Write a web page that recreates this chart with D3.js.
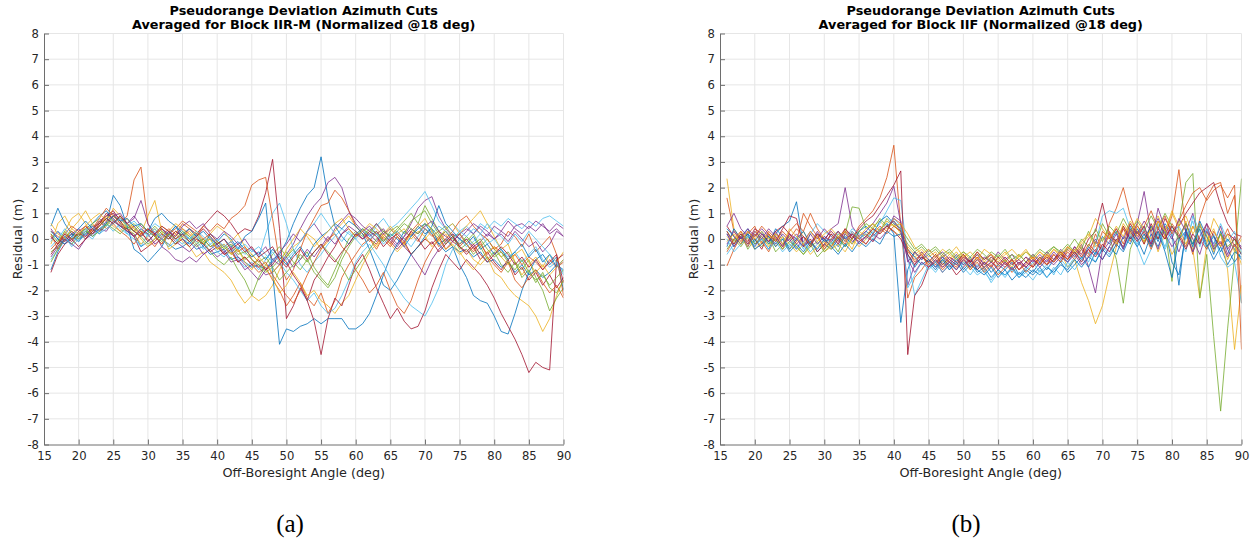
<!DOCTYPE html>
<html>
<head>
<meta charset="utf-8">
<script src="https://cdn.jsdelivr.net/npm/d3@7"></script>
<style>
  body { margin: 0; background: #fff; }
  svg { display: block; }
  text { font-family: "DejaVu Sans", sans-serif; }
</style>
</head>
<body>
<svg id="fig" width="1258" height="544"></svg>
<script>
// Off-boresight angles of each azimuth cut sample (deg)
const angles = d3.range(16, 91);
const xTicks = d3.range(15, 91, 5);
const yTicks = d3.range(-8, 9, 1);
const lineColors = ["#0072BD", "#D95319", "#EDB120", "#7E2F8E", "#77AC30", "#4DBEEE", "#A2142F"];

// Residuals (m) per azimuth cut, Block IIR-M, one row per cut, angles 16..90
const blockIIRM = [
  [-1.2,-0.5,0.0,0.2,0.1, 0.4,0.6,0.9,1.1,0.7, 0.5,0.3,0.2,-0.3,-0.1, 0.2,0.0,-0.2,-0.4,-0.3, -0.1,-0.4,-0.3,-0.6,-0.5, -0.4,-0.8,-0.7,-0.9,-1.1, -1.0,-1.2,-0.8,-0.6,-0.1, 0.6,1.2,1.7,2.0,3.2, 1.6,0.5,0.1,-0.2,0.2, 0.4,0.1,0.3,-0.1,0.2, 0.0,-0.3,0.1,0.4,0.6, 0.2,-0.2,0.0,-0.3,-0.5, -0.4,-0.7,-0.5,-0.9,-0.8, -1.1,-0.9,-1.3,-1.0,-1.4, -1.2,-1.5,-1.3,-1.0,-1.2],
  [0.3,0.1,-0.1,0.2,0.0, 0.3,0.5,0.6,0.8,1.0, 0.6,0.9,2.3,2.8,0.6, 0.1,-0.2,0.3,0.1,0.4, 0.2,-0.1,0.0,-0.3,-0.2, -0.6,-0.5,-0.9,-0.7,-1.0, -1.3,-1.1,-1.6,-2.0,-2.6, -2.2,-1.7,-2.3,-2.6,-2.1, -2.9,-2.4,-1.5,-1.0,-0.6, -0.2,0.0,-0.4,0.1,-0.2, 0.3,0.0,0.2,-0.1,0.4, 0.1,0.3,-0.1,0.2,-0.3, 0.0,-0.4,-0.2,-0.6,-0.3, -0.5,-0.8,-0.6,-1.0,-0.7, -0.9,-1.2,-0.8,-1.1,-0.9],
  [-0.2,0.6,0.9,0.4,0.7, 1.1,0.6,0.3,0.5,1.2, 0.9,0.4,0.2,-0.2,0.1, 0.4,0.0,-0.3,0.2,-0.1, -0.3,-0.7,-0.5,-0.9,-1.1, -1.3,-1.6,-2.1,-2.5,-2.2, -2.4,-2.2,-1.8,-1.2,-0.7, -0.3,-0.1,0.2,0.0,-0.4, -0.1,0.3,0.6,0.9,0.5, 0.2,0.0,-0.3,0.1,-0.2, -0.5,-0.2,-0.6,-0.3,0.0, 0.3,-0.1,0.2,-0.3,-0.6, -0.4,-0.8,-1.0,-0.7,-1.3, -1.5,-1.9,-2.2,-2.4,-2.6, -3.0,-3.6,-3.1,-2.2,-1.6],
  [0.4,0.0,-0.2,0.1,-0.1, 0.2,0.4,0.7,0.9,1.0, 0.8,0.6,0.9,0.5,0.3, 0.1,0.4,0.2,-0.1,-0.3, -0.5,-0.2,-0.6,-0.4,-0.7, -0.5,-0.9,-0.8,-1.2,-1.0, -1.1,-1.4,-1.3,-1.0,-0.6, -0.2,0.4,0.9,1.3,1.6, 2.2,2.4,2.0,1.1,0.6, 0.3,0.5,0.2,0.4,0.0, -0.3,0.1,0.6,1.2,1.5, 1.65,0.9,0.4,0.1,-0.2, 0.0,-0.3,-0.1,0.2,0.0, 0.3,0.1,0.5,0.6,0.4, 0.7,0.5,0.3,0.6,0.4],
  [-0.5,-0.3,0.1,0.3,0.0, 0.2,0.6,0.8,0.5,0.9, 0.7,0.4,0.6,0.3,0.2, 0.5,0.2,0.0,0.3,0.1, -0.1,0.2,-0.2,0.0,-0.4, -0.3,-0.6,-0.4,-0.8,-0.6, -0.9,-0.7,-1.1,-0.8,-0.5, -0.9,-1.2,-0.8,-1.3,-1.6, -1.9,-1.5,-0.8,-0.3,0.1, 0.4,0.2,0.6,0.3,0.1, 0.4,0.7,1.0,0.6,1.3, 0.8,0.3,0.5,0.1,0.2, -0.1,0.2,-0.3,0.0,-0.4, -0.7,-0.5,-0.9,-1.2,-0.8, -1.5,-2.0,-2.8,-2.3,-1.9],
  [-0.8,-0.4,0.1,-0.2,0.2, 0.0,0.3,0.7,0.5,0.8, 0.4,0.2,0.5,0.1,0.3, 0.6,0.4,0.1,0.5,0.3, 0.0,0.2,-0.1,0.1,-0.3, -0.2,-0.5,-0.3,-0.6,-0.4, -0.7,0.2,1.0,1.4,0.6, -0.4,-1.0,-1.3,-0.9,-0.6, -0.2,0.1,0.4,0.2,0.0, 0.3,0.1,0.5,0.8,0.4, 0.6,0.9,1.2,1.5,1.85, 1.3,0.7,0.4,0.6,0.3, 0.5,0.2,0.6,0.4,0.7, 0.5,0.8,0.6,0.4,0.7, 0.5,0.8,0.9,0.7,0.5],
  [-1.3,-0.6,-0.2,0.0,0.2, 0.1,0.4,0.6,0.9,1.1, 0.7,0.3,0.1,-0.5,-0.3, -0.1,0.2,0.0,0.3,0.1, 0.4,0.2,0.5,0.8,1.1, 0.9,0.6,0.2,0.4,0.3, 0.9,1.8,3.1,0.4,-3.1, -2.6,-1.9,-2.4,-1.6,-1.2, -0.7,-0.3,0.2,0.4,0.1, 0.3,0.0,-0.2,0.2,-0.1, -0.4,-0.1,-0.6,-0.3,0.0, -0.2,0.1,-0.4,-0.1,-0.3, -0.6,-0.3,-0.8,-0.5,-0.9, -1.2,-0.8,-1.4,-1.1,-1.6, -1.3,-1.8,-1.4,-1.9,-1.5],
  [0.5,1.2,0.6,0.2,-0.1, 0.3,0.1,0.4,0.6,1.7, 1.3,0.5,-0.4,-0.6,-0.9, -0.6,-0.3,0.2,0.5,0.0, -0.2,0.1,-0.3,0.2,-0.1, 0.2,0.0,-0.4,0.1,0.3, 0.8,1.4,-1.3,-4.1,-3.5, -3.6,-3.4,-3.3,-3.1,-3.3, -3.1,-3.1,-3.1,-3.5,-3.5, -3.3,-2.9,-2.2,-1.4,-0.7, -0.2,0.3,0.1,0.5,0.2, 0.4,-0.2,-0.5,-0.3,-1.0, -1.5,-2.2,-2.4,-2.5,-3.0, -3.6,-3.7,-2.9,-2.0,-1.3, -0.8,-0.6,-1.0,-0.7,-2.0],
  [0.2,-0.4,0.0,0.3,0.1, 0.5,0.3,0.7,0.4,0.6, 0.3,0.1,-0.2,0.2,0.0, -0.3,0.1,0.4,0.2,0.6, 0.4,0.1,0.5,0.3,0.6, 0.4,0.8,1.0,1.3,2.1, 2.3,2.4,0.8,-0.9,-1.6, -1.2,-0.4,0.3,0.8,1.3, 1.4,1.9,1.6,1.1,0.5, 0.2,-0.1,0.3,0.0,-0.3, 0.1,-0.2,0.3,0.6,0.4, 0.2,-0.3,0.0,0.3,0.7, 0.9,0.5,0.2,0.0,-0.4, -0.2,0.3,0.1,-0.3,0.2, -0.5,-0.2,0.1,-0.6,-2.2],
  [0.1,-0.2,0.3,0.8,1.0, 0.6,0.2,0.5,0.9,0.7, 0.5,0.8,0.4,0.2,0.9, 1.5,0.3,-0.4,-0.2,0.1, 0.3,0.0,-0.2,0.2,0.5, 0.3,-0.1,0.2,-0.3,-0.6, -0.9,-1.2,-1.5,-2.1,-1.8, -1.3,-1.7,-2.2,-2.0,-2.4, -2.6,-2.9,-2.5,-2.2,-1.6, -1.0,-0.5,-0.2,0.2,0.5, 0.2,0.4,0.0,0.3,0.1, -0.3,0.0,0.4,0.6,0.2, 0.5,0.8,1.1,0.6,0.1, -0.4,-0.2,-0.9,-1.4,-1.0, -0.7,-1.1,-0.6,-0.9,-0.5],
  [0.0,0.3,-0.1,0.2,0.4, 0.1,0.5,0.3,0.7,0.9, 1.0,0.6,0.8,1.5,0.6, 0.2,-0.3,-0.5,-0.8,-0.9, -0.7,-0.9,-0.6,-0.4,-0.2, -0.5,-0.3,-0.7,-1.0,-1.3, -1.6,-1.2,-0.9,-0.5,-0.2, 0.2,-0.1,0.3,0.6,0.2, -0.1,0.4,0.7,1.0,0.8, 0.5,0.3,0.6,0.2,0.4, 0.1,-0.3,-0.6,-1.0,-1.4, -0.8,-0.4,-0.1,0.2,0.0, 0.3,0.6,0.4,0.1,0.5, 0.3,0.7,0.4,0.2,0.5, 0.3,0.6,0.2,0.4,0.1],
  [-0.9,-0.4,0.0,-0.2,0.1, 0.3,0.2,0.5,0.8,0.6, 0.9,0.5,0.3,0.1,-0.2, 0.0,0.3,0.1,-0.2,0.2, 0.0,-0.3,-0.1,-0.5,-0.8, -1.0,-0.7,-1.2,-1.6,-2.2, -1.5,-1.0,-0.6,-0.3,-0.7, -0.4,-0.8,-0.5,-1.1,-1.5, -1.8,-1.2,-0.6,0.0,0.3, 0.1,0.4,0.2,-0.1,0.3, 0.5,0.2,0.7,0.9,1.1, 0.6,0.2,-0.2,0.1,-0.4, -0.2,-0.6,-0.3,-0.8,-0.5, -1.0,-1.3,-0.9,-1.5,-1.2, -1.7,-1.3,-1.9,-2.1,-1.6],
  [-0.3,0.0,0.4,0.1,-0.1, 0.2,0.0,0.4,0.6,0.3, 0.6,0.2,0.0,-0.3,0.2, 0.4,0.1,0.3,0.0,-0.2, 0.1,-0.1,-0.4,-0.2,-0.5, -0.7,-0.4,-0.8,-1.1,-0.9, -1.2,-0.8,-0.5,-0.9,-1.3, -1.6,-2.0,-2.4,-2.1,-2.6, -2.9,-2.7,-2.2,-1.6,-0.9, -0.5,-0.2,-0.6,-1.0,-1.5, -1.9,-2.3,-2.6,-2.8,-3.0, -2.5,-1.9,-1.0,-0.4,0.0, -0.3,-0.1,0.2,-0.2,0.0, -0.4,-0.7,-0.5,-0.9,-0.6, -0.3,-0.8,-1.1,-0.9,-1.3],
  [-0.6,-0.2,0.1,-0.1,0.3, 0.5,0.2,0.6,1.0,0.8, 0.5,0.4,0.1,0.3,-0.1, 0.2,0.4,0.1,-0.2,0.0, -0.3,0.0,-0.2,-0.5,-0.3, -0.6,-0.4,-0.9,-0.7,-1.0, -0.8,-1.2,-1.0,-0.6,-0.9, -1.4,-1.8,-2.4,-3.2,-4.5, -3.1,-2.3,-2.6,-1.8,-1.0, -0.6,-1.2,-1.9,-2.5,-3.1, -2.7,-3.2,-3.5,-3.4,-2.8, -1.9,-1.2,-0.6,-0.9,-1.2, -0.8,-1.1,-1.4,-1.8,-2.3, -2.9,-3.4,-3.9,-4.5,-5.2, -4.8,-5.0,-5.1,-0.8,-0.6],
  [0.3,0.0,-0.2,0.1,0.4, 0.7,0.4,0.2,0.6,0.9, 0.7,0.8,0.5,0.6,0.3, 0.8,1.0,0.7,0.5,0.2, 0.4,0.1,0.3,0.0,-0.2, 0.0,-0.3,-0.1,-0.4,-0.7, -0.5,-0.8,-0.4,-0.7,-1.0, -0.6,-0.3,-0.7,-0.2,0.1, 0.3,0.6,0.4,0.7,0.5, 0.2,-0.4,-1.1,-1.8,-2.0, -1.6,-1.1,-0.6,-0.3,0.1, 0.5,1.3,0.6,0.3,0.0, -0.2,0.1,-0.4,-0.2,-0.6, -0.4,-0.8,-0.5,-0.2,-0.7, -0.4,-0.9,-0.6,-1.1,-0.8],
  [-0.4,-0.1,0.2,0.5,0.3, 0.0,0.4,0.8,1.2,0.9, 0.6,0.3,0.5,0.2,0.4, 0.1,-0.2,0.2,0.4,0.7, 0.5,0.3,0.0,0.2,-0.1, -0.3,-0.1,-0.5,-0.3,-0.8, -1.1,-0.9,-1.4,-1.8,-2.2, -2.5,-2.0,-1.4,-0.9,-0.4, 0.0,0.2,-0.3,-0.6,-1.2, -1.6,-2.1,-1.8,-1.3,-2.0, -2.6,-2.9,-2.4,-1.6,-0.9, -0.4,0.0,0.3,-0.1,0.2, -0.2,-0.5,-0.1,-0.7,-1.0, -1.3,-0.9,-1.6,-1.9,-1.5, -1.2,-1.7,-2.1,-1.8,-2.3],
  [0.6,0.2,0.0,0.4,0.2, 0.5,0.8,1.0,0.7,0.5, 0.3,0.6,0.4,0.0,-0.3, 0.0,0.5,0.3,0.6,0.4, 0.1,0.3,-0.1,0.0,-0.4, -0.2,-0.6,-0.4,-0.9,-1.2, -0.7,-1.0,-1.3,-1.0,-0.4, 0.0,0.4,0.1,-0.3,0.0, 0.3,0.6,0.8,0.4,0.1, 0.3,0.6,0.4,0.1,0.4, 0.1,-0.2,0.2,0.5,0.8, 0.3,0.0,-0.4,-0.2,-0.5, -0.9,-1.2,-0.8,-0.5,-0.3, -0.7,-1.0,-0.6,-0.4,-0.9, -1.3,-1.0,-1.4,-1.1,-0.8],
  [-0.7,-0.3,0.0,-0.2,-0.4, 0.0,0.2,0.4,0.3,0.7, 0.5,0.3,0.1,0.4,0.2, -0.2,0.0,0.3,0.1,0.5, 0.7,0.4,0.6,0.2,0.0, 0.3,0.1,-0.2,0.0,-0.4, -0.6,-0.3,-0.8,-1.0,-0.7, -1.1,-0.8,-0.4,-0.7,-0.3, 0.1,-0.2,0.2,0.5,0.3, 0.0,0.2,-0.1,0.3,0.1, -0.2,0.1,0.4,0.2,0.5, 0.7,0.3,0.1,-0.1,0.2, 0.4,0.2,0.5,0.3,0.0, 0.2,-0.1,0.3,0.0,-0.3, -0.1,-0.5,-0.2,0.3,0.1],
  [0.2,-0.1,0.3,0.0,0.2, 0.4,0.1,0.3,0.6,0.4, 0.2,0.5,0.3,0.6,0.3, 0.1,-0.1,0.2,0.0,0.3, 0.1,-0.2,0.0,-0.3,-0.1, -0.4,-0.2,-0.6,-0.5,-0.8, -1.0,-1.3,-1.1,-1.6,-1.3, -1.0,-0.6,-0.9,-0.5,-0.2, -0.5,-0.8,-1.1,-1.6,-1.2, -0.8,-0.4,0.0,0.3,0.1, 0.3,0.6,0.4,0.2,0.6, 0.4,0.1,0.3,0.0,-0.2, 0.1,-0.2,0.0,-0.4,-0.7, -0.5,-0.9,-1.2,-0.8,-1.3, -1.6,-1.4,-1.8,-1.5,-1.2],
  [-0.1,0.3,0.1,-0.3,0.0, 0.3,0.5,0.2,0.4,0.6, 0.8,0.5,0.7,0.4,0.1, 0.3,0.0,-0.3,-0.1,0.2, 0.0,0.3,0.1,-0.2,0.0, -0.3,-0.1,-0.4,-0.2,-0.5, -0.3,-0.6,-0.9,-0.6,-0.8, -0.5,-0.1,0.3,0.6,1.0, 0.6,0.2,-0.1,0.3,0.0, -0.3,0.0,0.2,-0.2,0.1, 0.3,0.0,-0.3,0.1,0.4, 0.2,0.5,0.3,0.0,0.3, 0.1,0.4,0.2,0.6,0.3, 0.1,-0.2,0.2,-0.1,0.3, 0.0,-0.3,-0.6,-0.9,-1.4],
  [0.1,-0.2,0.2,0.0,-0.3, 0.0,0.3,0.5,0.8,0.6, 0.9,0.6,0.3,0.1,0.4, 0.2,0.5,0.3,0.0,0.2, -0.1,0.1,0.4,0.1,-0.2, 0.0,-0.4,-0.2,-0.5,-0.3, -0.7,-0.5,-0.3,-0.8,-1.1, -0.7,-0.4,-0.8,-0.5,-0.2, -0.6,-0.9,-0.5,-0.2,0.2, 0.0,0.3,0.1,-0.3,0.0, 0.2,-0.1,0.3,0.0,-0.4, -0.1,-0.5,-0.2,0.1,-0.3, -0.5,-0.2,-0.6,-0.9,-0.6, -0.3,-0.6,-1.0,-0.7,-1.1, -0.8,-1.2,-0.9,-0.6,-1.7]
];

// Residuals (m) per azimuth cut, Block IIF, angles 16..90
const blockIIF = [
  [0.2,-0.3,0.1,0.4,-0.2, 0.0,-0.4,0.2,0.5,0.7, 1.45,-0.3,-0.1,-0.5,-0.2, -0.4,0.0,-0.3,0.2,0.0, 0.3,0.1,0.4,0.6,0.2, -3.25,-1.2,-0.5,-0.8,-0.6, -0.9,-0.7,-1.1,-0.8,-1.0, -0.7,-1.2,-0.9,-1.3,-1.0, -1.2,-0.9,-1.4,-1.1,-1.3, -0.9,-1.2,-0.8,-0.6,-0.9, -0.5,-0.8,-0.3,-0.6,0.1, -0.2,0.3,-0.4,0.5,0.0, -0.6,0.2,-0.3,0.4,-0.9, -1.4,0.2,-0.5,0.6,-0.2, -0.8,-0.3,-1.0,-0.5,-0.7],
  [1.6,0.3,-0.1,0.2,0.5, -0.2,0.3,0.0,-0.4,0.2, -0.1,1.0,0.5,0.1,-0.3, 0.2,-0.2,0.4,0.0,0.5, 0.8,1.1,1.6,2.4,3.65, 0.5,-2.3,-1.5,-1.2,-0.8, -1.0,-0.6,-0.9,-1.2,-0.8, -1.1,-0.7,-1.0,-0.8,-1.2, -0.9,-1.3,-1.0,-0.7,-1.1, -0.8,-1.0,-0.6,-0.9,-0.4, -0.7,-0.3,-0.6,0.2,-0.4, 0.6,1.2,2.0,0.9,0.2, 0.5,-0.3,0.7,0.1,0.9, 2.7,0.3,-0.6,0.8,1.6, 2.1,2.2,1.0,1.7,-2.5],
  [2.35,0.4,0.0,-0.2,0.3, 0.1,-0.3,0.2,0.0,-0.4, -0.1,0.3,-0.2,0.1,-0.5, -0.3,0.2,0.0,-0.4,0.3, 0.1,0.5,0.7,0.4,0.6, 0.2,-0.4,-0.7,-0.5,-0.9, -0.6,-1.0,-0.8,-0.5,-0.9, -1.2,-0.8,-1.1,-0.7,-1.0, -0.8,-1.1,-0.6,-0.9,-0.7, -1.0,-0.6,-0.8,-0.5,-1.1, -0.8,-1.7,-2.4,-3.3,-2.6, -1.4,-0.3,0.5,0.1,0.6, -0.2,0.4,-0.5,0.2,-0.6, -0.1,0.7,-0.4,-2.3,-0.2, 0.8,0.3,-1.2,-4.3,-1.8],
  [0.5,1.0,0.4,0.1,-0.3, 0.2,-0.1,0.3,-0.2,0.0, -0.4,0.1,-0.2,0.3,-0.1, 0.4,0.6,2.0,0.5,0.1, 0.3,0.6,1.0,1.4,2.05, 0.6,-1.8,-1.0,-0.5,-0.8, -1.1,-0.7,-0.9,-0.6,-1.0, -0.8,-1.1,-0.7,-0.9,-0.5, -0.8,-0.6,-1.0,-0.7,-0.9, -0.6,-0.9,-0.5,-0.8,-0.3, -0.6,-0.2,-1.1,-2.1,-0.4, 0.3,-0.2,0.4,0.0,0.6, 1.85,0.2,-0.4,0.5,0.1, -0.5,0.3,1.0,-0.2,0.4, -0.3,0.2,-0.6,0.1,-0.4],
  [0.3,-0.1,0.2,-0.4,0.0, -0.3,0.1,-0.5,-0.2,0.1, -0.3,-0.6,-0.2,-0.7,-0.4, -0.1,-0.5,0.2,1.25,1.2, 0.4,0.6,0.3,0.8,0.5, 0.3,-0.2,-0.5,-0.3,-0.6, -0.4,-0.7,-0.5,-0.8,-0.6, -0.9,-0.6,-0.8,-0.5,-0.7, -0.4,-0.8,-0.6,-0.9,-0.6, -0.8,-0.5,-0.3,-0.6,-0.4, 0.0,-0.4,0.3,-0.2,0.6, 0.1,-0.8,-2.5,-0.4,0.3, -0.1,0.5,0.0,0.4,-1.65, 0.6,2.2,2.55,-2.3,-0.6, -3.8,-6.7,-3.5,-0.7,2.35],
  [-0.6,-0.2,0.1,-0.3,0.2, -0.1,0.2,-0.2,0.0,-0.3, 0.1,-0.4,0.2,0.6,0.3, 0.1,0.3,0.0,0.4,0.2, 0.0,0.3,0.6,1.1,1.6, 1.5,-0.7,-2.2,-1.6,-1.0, -1.3,-0.9,-1.2,-0.8,-1.1, -1.4,-1.0,-1.3,-1.6,-1.2, -1.5,-1.1,-1.4,-1.2,-0.9, -1.3,-1.0,-1.4,-0.8,-1.1, -0.7,-0.4,-0.9,-0.2,0.9, 1.1,1.0,1.2,0.4,-0.3, -1.0,-0.4,0.2,-0.3,0.5, 0.0,-0.5,0.9,0.3,-0.4, 0.2,-0.7,-1.1,-0.9,-2.5],
  [0.5,0.1,-0.2,0.3,0.0, -0.4,0.2,-0.1,0.4,0.9, 0.8,-0.3,0.0,-0.5,-0.2, 0.2,-0.1,0.3,0.0,0.4, 0.7,0.9,1.3,1.7,2.1, 2.65,-4.5,-2.2,-1.8,-1.1, -0.9,-1.3,-1.0,-1.4,-1.1, -0.8,-1.2,-0.9,-1.1,-0.7, -1.0,-0.8,-1.2,-0.9,-1.1, -0.7,-1.0,-0.8,-0.5,-0.8, -0.3,-0.6,0.0,0.3,1.4, 0.2,-0.1,0.5,0.0,0.3, -0.2,0.6,0.0,0.8,0.3, 0.5,1.0,1.4,1.8,2.0, 2.2,1.3,0.6,0.2,0.1],
  [-0.3,0.4,0.0,0.2,-0.1, 0.3,-0.2,0.4,0.1,-0.4, 0.0,0.3,-0.2,0.2,-0.1, 0.0,-0.3,0.1,-0.2,0.3, 0.5,0.2,0.7,0.9,0.6, 0.4,-0.6,-1.1,-0.7,-0.9, -1.2,-0.8,-1.0,-0.7,-1.2, -0.9,-1.3,-1.1,-1.5,-1.2, -1.4,-1.1,-1.5,-1.2,-1.4, -1.1,-1.5,-1.2,-0.9,-1.3, -1.0,-0.7,-1.1,-0.5,-0.8, -0.3,-0.6,0.1,-0.2,0.4, 0.0,0.5,-0.1,0.6,0.2, -1.8,0.4,-0.3,0.7,0.1, -0.6,0.3,-0.4,-0.9,-0.5],
  [-1.05,-0.4,0.1,-0.3,0.2, -0.1,-0.5,0.1,-0.3,0.3, 0.6,0.3,1.0,0.4,0.0, -0.3,0.1,-0.2,0.3,0.0, 0.2,-0.1,0.4,0.2,0.5, 0.3,-0.5,-0.8,-0.6,-1.0, -0.7,-1.1,-0.8,-1.0,-0.6, -1.0,-0.7,-1.2,-0.9,-1.1, -0.8,-1.2,-0.9,-1.3,-1.0, -0.7,-1.0,-0.6,-0.9,-0.5, -0.8,-0.4,-0.7,-0.1,-0.5, 0.2,-0.3,0.4,-0.1,0.5, 0.2,-0.4,0.3,0.0,0.6, 0.2,-0.3,0.5,0.0,-0.4, 0.3,-0.2,0.4,-0.3,0.1],
  [0.1,-0.2,0.3,0.0,-0.4, -0.1,0.2,-0.3,0.1,-0.2, -0.5,-0.2,-0.6,-0.3,-0.1, -0.4,-0.2,-0.5,0.0,-0.3, 0.0,0.4,0.2,0.5,0.3, 0.1,-0.3,-0.6,-0.4,-0.7, -0.5,-0.9,-0.6,-0.8,-0.5, -0.8,-0.5,-0.9,-0.6,-0.8, -0.5,-0.9,-0.7,-0.4,-0.8, -0.5,-0.8,-0.4,-0.7,-0.3, -0.6,-0.2,0.1,0.8,0.4, 0.0,0.5,0.1,0.7,0.3, -0.1,0.4,0.9,0.3,1.0, 0.4,-0.2,0.5,-0.1,0.3, -0.5,0.2,-0.8,-0.2,-1.0],
  [-0.2,0.3,0.0,0.4,0.1, 0.4,0.1,-0.2,0.2,-0.1, 0.2,-0.1,0.3,0.0,0.4, 0.1,-0.2,0.2,-0.1,0.1, -0.2,0.2,0.0,0.3,0.9, 0.7,-0.9,-0.5,-0.8,-0.4, -0.7,-0.5,-0.8,-1.0,-0.7, -0.9,-0.6,-1.0,-0.7,-0.9, -1.1,-0.8,-1.2,-0.9,-0.6, -0.9,-0.5,-0.8,-0.4,-0.7, -0.3,-0.7,-0.4,0.0,-0.5, -0.1,0.4,0.0,0.6,0.2, 0.7,0.3,0.8,0.2,-0.3, 0.1,0.6,0.0,-0.6,0.3, -0.2,0.5,-0.4,0.0,-0.3],
  [-0.4,0.0,-0.3,0.1,-0.2, 0.1,-0.2,0.0,-0.4,-0.1, -0.3,-0.6,-0.3,-0.1,-0.5, -0.2,0.1,-0.3,0.0,0.3, 0.6,0.4,0.8,0.5,0.7, 0.4,0.0,-0.4,-0.2,-0.5, -0.3,-0.6,-0.4,-0.7,-0.5, -0.7,-0.4,-0.6,-0.9,-0.6, -0.9,-0.6,-0.8,-0.5,-0.7, -0.4,-0.6,-0.3,-0.5,-0.2, -0.5,0.0,-0.3,0.4,-0.1, 0.5,0.2,0.8,0.3,0.7, 0.3,0.9,0.4,1.0,0.5, 0.0,0.6,-0.2,0.5,0.1, -0.4,0.2,-0.3,0.0,-0.6],
  [0.0,-0.5,-0.2,0.1,-0.3, 0.0,-0.4,-0.1,-0.5,-0.2, -0.4,-0.1,-0.5,-0.2,0.1, -0.2,0.2,-0.1,0.3,0.0, 0.2,0.0,0.4,0.6,0.8, 0.5,-1.9,-1.4,-0.9,-1.2, -0.9,-1.3,-1.0,-1.2,-0.9, -1.1,-1.4,-1.2,-1.7,-1.3, -1.4,-1.2,-1.5,-1.3,-1.6, -1.2,-1.5,-1.1,-1.4,-0.9, -1.2,-0.8,-0.5,-0.9,-0.3, -0.6,0.0,-0.4,0.2,-0.2, 0.4,-0.1,0.6,-0.4,0.2, 0.5,0.0,0.7,-0.3,0.4, -0.2,0.6,-0.1,0.3,-0.5],
  [0.3,-0.2,0.2,-0.1,0.4, 0.2,-0.1,0.3,0.5,0.2, -0.2,0.1,-0.3,0.2,0.0, 0.3,0.0,0.4,0.1,-0.1, 0.1,0.4,0.2,0.5,0.3, 0.0,-0.6,-1.0,-0.7,-0.9, -0.6,-1.0,-0.7,-0.9,-0.6, -0.9,-0.5,-0.8,-0.6,-1.0, -0.7,-1.0,-0.8,-1.1,-0.8, -1.0,-0.7,-0.9,-0.6,-0.8, -0.5,-0.9,-0.4,-0.7,-0.2, -0.5,0.0,-0.3,0.3,-0.1, 0.3,-0.2,0.4,0.0,0.5, 0.1,-0.4,0.2,-0.2,0.6, 0.1,-0.3,0.2,0.0,-0.4],
  [0.4,0.1,-0.2,0.2,-0.4, -0.2,0.1,-0.3,0.0,-0.5, -0.2,-0.5,-0.1,-0.4,0.0, -0.3,-0.6,-0.2,-0.5,-0.1, -0.3,0.0,-0.2,0.3,0.1, 0.2,-0.4,-0.7,-1.0,-0.8, -1.1,-0.8,-1.2,-0.9,-1.3, -1.0,-1.2,-1.4,-1.1,-1.5, -1.2,-1.6,-1.3,-1.5,-1.2, -1.4,-1.1,-1.3,-1.0,-1.2, -0.8,-1.1,-0.7,-0.9,-0.4, -0.7,-0.2,-0.5,0.1,-0.3, 0.2,-0.3,0.3,-0.5,-1.5, 0.0,0.3,-0.2,0.4,-0.3, 0.1,-0.5,0.0,-0.4,-0.8],
  [-0.5,0.0,0.3,-0.2,0.1, 0.5,0.2,-0.1,0.3,0.0, 0.4,0.1,-0.2,0.2,-0.4, 0.0,0.3,-0.1,0.2,0.0, -0.2,0.2,0.5,0.3,0.8, 0.6,-0.4,-0.9,-0.6,-1.1, -0.8,-1.2,-0.9,-1.1,-0.7, -1.2,-0.9,-1.3,-1.0,-1.4, -1.1,-0.8,-1.2,-1.0,-0.7, -1.0,-0.6,-0.9,-0.5,-0.8, -0.4,-0.7,-0.2,-0.5,0.3, 0.0,0.4,-0.2,0.6,0.1, 0.5,1.1,0.4,0.9,0.2, 0.7,1.3,1.8,2.0,1.5, 1.9,2.1,1.6,2.1,-4.3],
  [-0.1,0.2,-0.2,0.3,0.0, 0.3,0.0,0.2,-0.2,0.4, 0.1,-0.2,0.3,-0.1,0.2, 0.4,0.1,0.3,-0.2,0.1, 0.4,0.6,0.3,0.7,0.5, 0.6,0.2,-0.3,-0.6,-0.4, -0.7,-0.4,-0.6,-0.3,-0.7, -0.5,-0.8,-0.4,-0.6,-0.9, -0.6,-0.4,-0.7,-0.5,-0.8, -0.5,-0.7,-0.4,-0.6,-0.3, -0.5,-0.1,0.2,-0.3,0.0, 0.3,-0.2,0.6,0.2,0.8, 0.4,0.0,0.7,0.3,1.1, 0.5,0.9,0.2,0.6,-0.1, 0.4,-0.3,0.2,-0.5,0.0],
  [0.2,-0.3,0.1,-0.2,0.3, 0.0,0.4,0.1,-0.3,0.2, 0.0,-0.3,0.2,-0.2,0.1, -0.1,0.3,0.0,0.2,-0.2, 0.1,-0.1,0.3,0.5,0.7, 0.3,-0.8,-1.3,-0.9,-1.1, -0.8,-1.1,-0.9,-1.2,-0.8, -1.1,-0.8,-1.1,-0.9,-1.2, -0.9,-1.2,-0.9,-1.1,-0.8, -1.1,-0.8,-1.0,-0.7,-0.9, -0.6,-1.0,-0.7,-0.4,-0.8, -0.3,0.2,-0.4,0.4,0.0, 0.5,-0.2,1.2,0.4,0.0, 0.8,0.3,-0.5,0.1,0.6, -0.4,-0.1,-0.7,-0.2,-0.6]
];

const panels = [
  { title: ["Pseudorange Deviation Azimuth Cuts", "Averaged for Block IIR-M (Normalized @18 deg)"],
    cuts: blockIIRM, left: 44, right: 563.5, tag: "(a)", tagX: 290 },
  { title: ["Pseudorange Deviation Azimuth Cuts", "Averaged for Block IIF (Normalized @18 deg)"],
    cuts: blockIIF, left: 720, right: 1241.5, tag: "(b)", tagX: 966 }
];

const plotTop = 33.5, plotBottom = 444.5;
const svg = d3.select("#fig");
svg.append("rect").attr("width", 1258).attr("height", 544).attr("fill", "#fff");

panels.forEach((p, k) => {
  const x = d3.scaleLinear().domain([15, 90]).range([p.left, p.right]);
  const y = d3.scaleLinear().domain([-8, 8]).range([plotBottom, plotTop]);
  const g = svg.append("g");

  // grid
  g.append("g").selectAll("line").data(xTicks.slice(1)).join("line")
    .attr("x1", d => x(d)).attr("x2", d => x(d)).attr("y1", plotTop).attr("y2", plotBottom)
    .attr("stroke", "#e6e6e6").attr("stroke-width", 1);
  g.append("g").selectAll("line").data(yTicks.slice(1)).join("line")
    .attr("x1", p.left).attr("x2", p.right).attr("y1", d => y(d)).attr("y2", d => y(d))
    .attr("stroke", "#e6e6e6").attr("stroke-width", 1);

  // cuts
  const clipId = "clip" + k;
  svg.append("clipPath").attr("id", clipId).append("rect")
    .attr("x", p.left).attr("y", plotTop).attr("width", p.right - p.left).attr("height", plotBottom - plotTop);
  const line = d3.line().x((d, i) => x(angles[i])).y(d => y(d));
  g.append("g").attr("clip-path", `url(#${clipId})`)
    .selectAll("path").data(p.cuts).join("path")
    .attr("d", line)
    .attr("fill", "none")
    .attr("stroke", (d, i) => lineColors[i % lineColors.length])
    .attr("stroke-width", 0.9)
    .attr("stroke-opacity", 0.9)
    .attr("stroke-linejoin", "round");

  // axes (inward ticks, plain hyphen minus signs)
  const plain = d => String(d);
  const xAxis = d3.axisBottom(x).tickValues(xTicks).tickFormat(plain).tickSizeInner(-5).tickSizeOuter(0).tickPadding(7);
  const yAxis = d3.axisLeft(y).tickValues(yTicks).tickFormat(plain).tickSizeInner(-5).tickSizeOuter(0).tickPadding(5);
  const gx = g.append("g").attr("transform", `translate(0,${plotBottom})`).call(xAxis);
  const gy = g.append("g").attr("transform", `translate(${p.left},0)`).call(yAxis);
  [gx, gy].forEach(a => {
    a.select(".domain").attr("stroke", "#6e6e6e");
    a.selectAll(".tick line").attr("stroke", "#6e6e6e");
    a.selectAll(".tick text").attr("fill", "#262626")
      .style("font-family", "'DejaVu Sans', sans-serif").style("font-size", "11.6px");
  });

  const cx = (p.left + p.right) / 2;
  // title
  g.append("text").attr("x", cx).attr("y", 14.5).attr("text-anchor", "middle")
    .attr("font-weight", "bold").attr("font-size", 12.8).attr("fill", "#000").text(p.title[0]);
  g.append("text").attr("x", cx).attr("y", 28.5).attr("text-anchor", "middle")
    .attr("font-weight", "bold").attr("font-size", 12.8).attr("fill", "#000").text(p.title[1]);

  // axis labels
  g.append("text").attr("x", cx).attr("y", 476.5).attr("text-anchor", "middle")
    .attr("font-size", 12.8).attr("fill", "#262626").text("Off-Boresight Angle (deg)");
  g.append("text").attr("transform", `translate(${p.left - 22.5},${(plotTop + plotBottom) / 2}) rotate(-90)`)
    .attr("text-anchor", "middle").attr("font-size", 12.8).attr("fill", "#262626").text("Residual (m)");

  // subfigure tag
  g.append("text").attr("x", p.tagX).attr("y", 532).attr("text-anchor", "middle")
    .style("font-family", "'Liberation Serif', 'DejaVu Serif', serif").attr("font-size", 25)
    .attr("fill", "#000").text(p.tag);
});
</script>
</body>
</html>
